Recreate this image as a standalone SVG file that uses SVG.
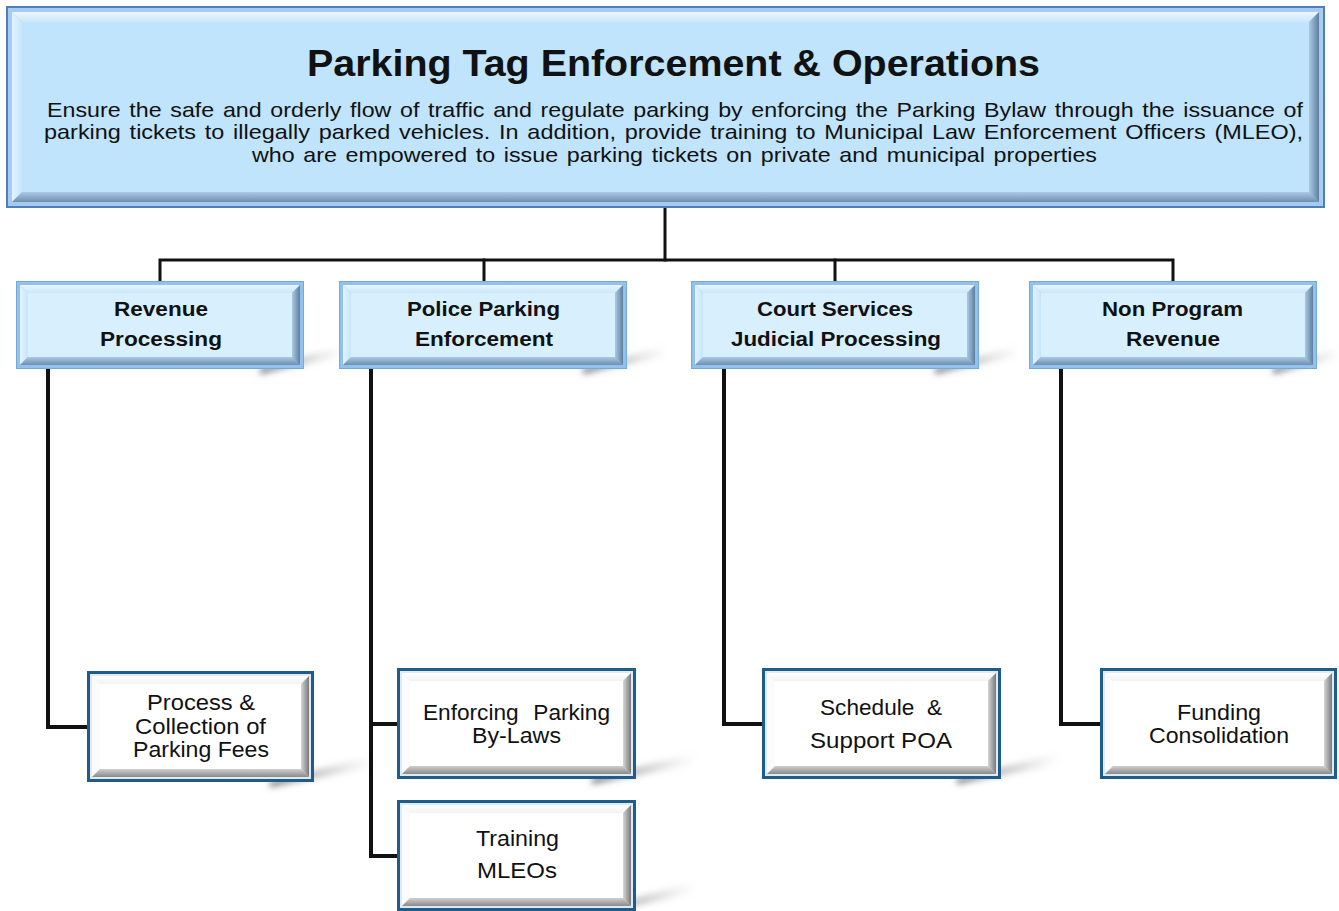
<svg xmlns="http://www.w3.org/2000/svg" width="1339" height="911" viewBox="0 0 1339 911">
<defs>
<linearGradient id="gTopV" x1="0" y1="0" x2="0" y2="1"><stop offset="0" stop-color="#e9f6fe"/><stop offset="1" stop-color="#c9e7fb"/></linearGradient>
<linearGradient id="gLeftH" x1="0" y1="0" x2="1" y2="0"><stop offset="0" stop-color="#e2f3fe"/><stop offset="1" stop-color="#c6e6fb"/></linearGradient>
<linearGradient id="gBotV" x1="0" y1="0" x2="0" y2="1"><stop offset="0" stop-color="#a9c9e6"/><stop offset="1" stop-color="#6f8fae"/></linearGradient>
<linearGradient id="gRightH" x1="0" y1="0" x2="1" y2="0"><stop offset="0" stop-color="#a9c9e6"/><stop offset="1" stop-color="#5f7f9f"/></linearGradient>
<linearGradient id="wTopV" x1="0" y1="0" x2="0" y2="1"><stop offset="0" stop-color="#ffffff"/><stop offset="1" stop-color="#f2f2f2"/></linearGradient>
<linearGradient id="wBotV" x1="0" y1="0" x2="0" y2="1"><stop offset="0" stop-color="#d0d0d0"/><stop offset="1" stop-color="#8a8a8a"/></linearGradient>
<linearGradient id="wRightH" x1="0" y1="0" x2="1" y2="0"><stop offset="0" stop-color="#d5d5d5"/><stop offset="1" stop-color="#7a7a7a"/></linearGradient>
<linearGradient id="shadowG" x1="0" y1="0" x2="1" y2="0"><stop offset="0" stop-color="#5d5d5d" stop-opacity="0.9"/><stop offset="1" stop-color="#bdbdbd" stop-opacity="0"/></linearGradient>
<filter id="blur" x="-20%" y="-50%" width="140%" height="200%"><feGaussianBlur stdDeviation="3"/></filter>
<style>
.t{font-family:"Liberation Sans",Arial,sans-serif;fill:#111}
.title{font-size:37px;font-weight:bold;text-anchor:middle}
.desc{font-size:21px;word-spacing:2px}
.l2t{font-size:20px;font-weight:bold;text-anchor:middle}
.l3t{font-size:21.5px;text-anchor:middle}
.conn{fill:none;stroke:#111;stroke-linecap:square}
.c1{stroke-width:3}
.c2{stroke-width:4}
.bt{fill:url(#gTopV)}
.bl{fill:url(#gLeftH)}
.bb{fill:url(#gBotV)}
.br{fill:url(#gRightH)}
.wt{fill:url(#wTopV)}
.wl{fill:#fbfbfb}
.wb{fill:url(#wBotV)}
.wr{fill:url(#wRightH)}
.topOuter{fill:#a6cbee;stroke:#4d7fbd;stroke-width:2}
.topFace{fill:#bfe4fb}
.l2Outer{fill:#92c2ec;stroke:#74a9dc;stroke-width:1}
.l2Face{fill:#d8f0fd}
.l3Outer{fill:#1e5c8b}
.l3Band{fill:#dfeaf3}
.l3Face{fill:#ffffff}
.shadow{fill:url(#shadowG);filter:url(#blur)}
</style>
</defs>
<rect width="1339" height="911" fill="#ffffff"/>

<g id="shadows">
<path class="shadow" d="M260,369 L342,346 L344,356 L260,374 Z"/>
<path class="shadow" d="M583,369 L665,346 L667,356 L583,374 Z"/>
<path class="shadow" d="M935,369 L1017,346 L1019,356 L935,374 Z"/>
<path class="shadow" d="M1273,369 L1339,348 L1339,358 L1273,374 Z"/>
<path class="shadow" d="M270,782 L372,756 L374,767 L270,787 Z"/>
<path class="shadow" d="M592,779 L694,753 L696,764 L592,784 Z"/>
<path class="shadow" d="M592,910 L694,882 L696,893 L592,915 Z"/>
<path class="shadow" d="M957,779 L1059,753 L1061,764 L957,784 Z"/>
</g>

<g id="connectors">
<path class="conn c1" d="M665,208 V260"/>
<path class="conn c1" d="M160,281 V260 H1173 V281"/>
<path class="conn c1" d="M484,260 V281"/>
<path class="conn c1" d="M835,260 V281"/>
<path class="conn c2" d="M48,370 V727 H87"/>
<path class="conn c2" d="M371,370 V856 H397"/>
<path class="conn c2" d="M371,724 H397"/>
<path class="conn c2" d="M724,370 V724 H762"/>
<path class="conn c2" d="M1061,370 V724 H1100"/>
</g>

<g id="node-top">
<rect class="topOuter" x="7" y="7" width="1317" height="200"/>
<polygon class="bt" points="12,12 1319,12 1309,22 22,22"/>
<polygon class="bl" points="12,12 22,22 22,192 12,202"/>
<polygon class="bb" points="12,202 22,192 1309,192 1319,202"/>
<polygon class="br" points="1319,12 1319,202 1309,192 1309,22"/>
<rect class="topFace" x="22" y="22" width="1287" height="170"/>
<text class="t title" x="673.5" y="76" textLength="733" lengthAdjust="spacingAndGlyphs">Parking Tag Enforcement &amp; Operations</text>
<text class="t desc" x="47" y="117" textLength="1256" lengthAdjust="spacingAndGlyphs">Ensure the safe and orderly flow of traffic and regulate parking by enforcing the Parking Bylaw through the issuance of</text>
<text class="t desc" x="44" y="139" textLength="1259" lengthAdjust="spacingAndGlyphs">parking tickets to illegally parked vehicles. In addition, provide training to Municipal Law Enforcement Officers (MLEO),</text>
<text class="t desc" x="252" y="162" textLength="845" lengthAdjust="spacingAndGlyphs">who are empowered to issue parking tickets on private and municipal properties</text>
</g>

<g id="node-revenue-processing">
<rect class="l2Outer" x="16.5" y="281.5" width="287" height="87"/>
<polygon class="bt" points="20,285 300,285 292,293 28,293"/>
<polygon class="bl" points="20,285 28,293 28,357 20,365"/>
<polygon class="bb" points="20,365 28,357 292,357 300,365"/>
<polygon class="br" points="300,285 300,365 292,357 292,293"/>
<rect class="l2Face" x="28" y="293" width="264" height="64"/>
<text class="t l2t" x="161" y="316" textLength="94" lengthAdjust="spacingAndGlyphs">Revenue</text>
<text class="t l2t" x="161" y="346" textLength="122" lengthAdjust="spacingAndGlyphs">Processing</text>
</g>

<g id="node-police-parking">
<rect class="l2Outer" x="339.5" y="281.5" width="287" height="87"/>
<polygon class="bt" points="343,285 623,285 615,293 351,293"/>
<polygon class="bl" points="343,285 351,293 351,357 343,365"/>
<polygon class="bb" points="343,365 351,357 615,357 623,365"/>
<polygon class="br" points="623,285 623,365 615,357 615,293"/>
<rect class="l2Face" x="351" y="293" width="264" height="64"/>
<text class="t l2t" x="483.5" y="316" textLength="153" lengthAdjust="spacingAndGlyphs">Police Parking</text>
<text class="t l2t" x="484" y="346" textLength="138" lengthAdjust="spacingAndGlyphs">Enforcement</text>
</g>

<g id="node-court-services">
<rect class="l2Outer" x="691.5" y="281.5" width="287" height="87"/>
<polygon class="bt" points="695,285 975,285 967,293 703,293"/>
<polygon class="bl" points="695,285 703,293 703,357 695,365"/>
<polygon class="bb" points="695,365 703,357 967,357 975,365"/>
<polygon class="br" points="975,285 975,365 967,357 967,293"/>
<rect class="l2Face" x="703" y="293" width="264" height="64"/>
<text class="t l2t" x="835" y="316" textLength="156" lengthAdjust="spacingAndGlyphs">Court Services</text>
<text class="t l2t" x="836" y="346" textLength="210" lengthAdjust="spacingAndGlyphs">Judicial Processing</text>
</g>

<g id="node-non-program-revenue">
<rect class="l2Outer" x="1029.5" y="281.5" width="287" height="87"/>
<polygon class="bt" points="1033,285 1313,285 1305,293 1041,293"/>
<polygon class="bl" points="1033,285 1041,293 1041,357 1033,365"/>
<polygon class="bb" points="1033,365 1041,357 1305,357 1313,365"/>
<polygon class="br" points="1313,285 1313,365 1305,357 1305,293"/>
<rect class="l2Face" x="1041" y="293" width="264" height="64"/>
<text class="t l2t" x="1172.5" y="316" textLength="141" lengthAdjust="spacingAndGlyphs">Non Program</text>
<text class="t l2t" x="1173" y="346" textLength="94" lengthAdjust="spacingAndGlyphs">Revenue</text>
</g>

<g id="node-process-collection">
<rect class="l3Outer" x="87" y="671" width="227" height="111"/>
<rect class="l3Band" x="90" y="674" width="221" height="105"/>
<polygon class="wt" points="92,676 309,676 301,684 100,684"/>
<polygon class="wl" points="92,676 100,684 100,769 92,777"/>
<polygon class="wb" points="92,777 100,769 301,769 309,777"/>
<polygon class="wr" points="309,676 309,777 301,769 301,684"/>
<rect class="l3Face" x="100" y="684" width="201" height="85"/>
<text class="t l3t" x="201" y="710" textLength="108" lengthAdjust="spacingAndGlyphs">Process &amp;</text>
<text class="t l3t" x="200.5" y="734" textLength="131" lengthAdjust="spacingAndGlyphs">Collection of</text>
<text class="t l3t" x="201" y="757" textLength="136" lengthAdjust="spacingAndGlyphs">Parking Fees</text>
</g>

<g id="node-enforcing-bylaws">
<rect class="l3Outer" x="397" y="668" width="239" height="111"/>
<rect class="l3Band" x="400" y="671" width="233" height="105"/>
<polygon class="wt" points="402,673 631,673 623,681 410,681"/>
<polygon class="wl" points="402,673 410,681 410,766 402,774"/>
<polygon class="wb" points="402,774 410,766 623,766 631,774"/>
<polygon class="wr" points="631,673 631,774 623,766 623,681"/>
<rect class="l3Face" x="410" y="681" width="213" height="85"/>
<text class="t l3t" x="516.5" y="720" textLength="187" lengthAdjust="spacingAndGlyphs" word-spacing="8">Enforcing Parking</text>
<text class="t l3t" x="516.5" y="743" textLength="89" lengthAdjust="spacingAndGlyphs">By-Laws</text>
</g>

<g id="node-training-mleos">
<rect class="l3Outer" x="397" y="800" width="239" height="111"/>
<rect class="l3Band" x="400" y="803" width="233" height="105"/>
<polygon class="wt" points="402,805 631,805 623,813 410,813"/>
<polygon class="wl" points="402,805 410,813 410,898 402,906"/>
<polygon class="wb" points="402,906 410,898 623,898 631,906"/>
<polygon class="wr" points="631,805 631,906 623,898 623,813"/>
<rect class="l3Face" x="410" y="813" width="213" height="85"/>
<text class="t l3t" x="517.5" y="846" textLength="83" lengthAdjust="spacingAndGlyphs">Training</text>
<text class="t l3t" x="517" y="878" textLength="80" lengthAdjust="spacingAndGlyphs">MLEOs</text>
</g>

<g id="node-schedule-support">
<rect class="l3Outer" x="762" y="668" width="239" height="111"/>
<rect class="l3Band" x="765" y="671" width="233" height="105"/>
<polygon class="wt" points="767,673 996,673 988,681 775,681"/>
<polygon class="wl" points="767,673 775,681 775,766 767,774"/>
<polygon class="wb" points="767,774 775,766 988,766 996,774"/>
<polygon class="wr" points="996,673 996,774 988,766 988,681"/>
<rect class="l3Face" x="775" y="681" width="213" height="85"/>
<text class="t l3t" x="881" y="715" textLength="122" lengthAdjust="spacingAndGlyphs" word-spacing="6">Schedule &amp;</text>
<text class="t l3t" x="881" y="748" textLength="142" lengthAdjust="spacingAndGlyphs">Support POA</text>
</g>

<g id="node-funding-consolidation">
<rect class="l3Outer" x="1100" y="668" width="237" height="111"/>
<rect class="l3Band" x="1103" y="671" width="231" height="105"/>
<polygon class="wt" points="1105,673 1332,673 1324,681 1113,681"/>
<polygon class="wl" points="1105,673 1113,681 1113,766 1105,774"/>
<polygon class="wb" points="1105,774 1113,766 1324,766 1332,774"/>
<polygon class="wr" points="1332,673 1332,774 1324,766 1324,681"/>
<rect class="l3Face" x="1113" y="681" width="211" height="85"/>
<text class="t l3t" x="1219" y="720" textLength="84" lengthAdjust="spacingAndGlyphs">Funding</text>
<text class="t l3t" x="1219" y="743" textLength="140" lengthAdjust="spacingAndGlyphs">Consolidation</text>
</g>
</svg>
